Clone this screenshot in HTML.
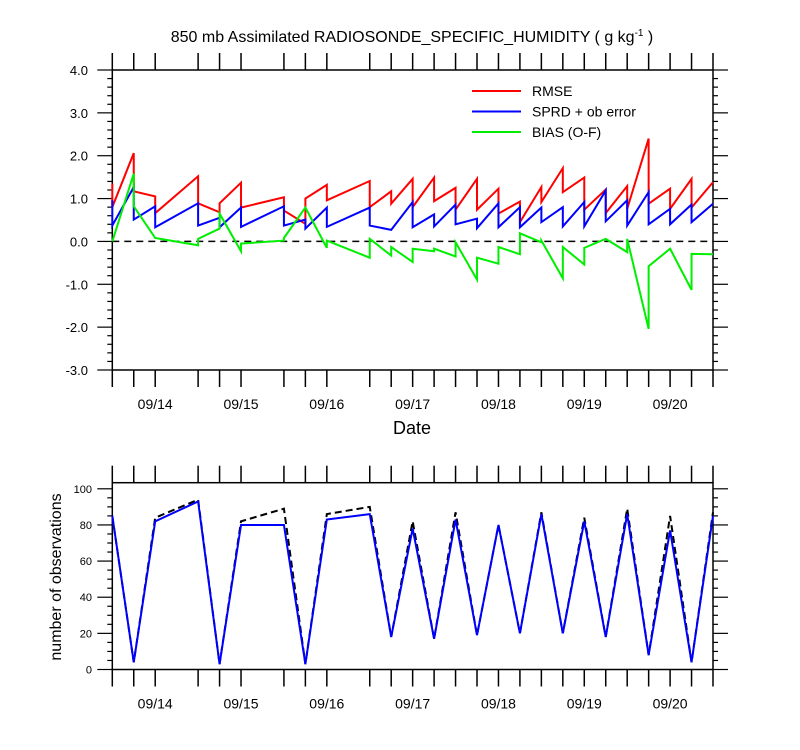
<!DOCTYPE html>
<html><head><meta charset="utf-8"><style>
html,body{margin:0;padding:0;background:#fff;}
svg{display:block;font-family:"Liberation Sans",sans-serif;}
</style></head><body>
<svg id="c" width="800" height="750"></svg>
<script>
const times=[0,1,2,4,5,6,8,9,10,12,13,14,15,16,17,18,19,20,21,22,23,24,25,26,27,28];
const dateLabels=["09/14","09/15","09/16","09/17","09/18","09/19","09/20"];
const dateTimes=[2,6,10,14,18,22,26];
const rmseEnd=[1.35,2.06,1.05,1.52,0.68,1.37,1.03,0.41,1.32,1.41,1.17,1.46,1.49,1.25,1.46,1.23,0.93,1.27,1.71,1.49,1.21,1.29,2.40,1.23,1.46,1.38];
const rmseStart=[0.80,1.17,0.66,0.89,0.89,0.79,0.72,1.00,0.96,0.80,0.88,0.80,0.94,0.74,0.74,0.65,0.45,0.92,1.15,0.74,0.66,0.76,0.88,0.76,0.79,1.38];
const sprdEnd=[0.96,1.27,0.82,0.89,0.55,0.79,0.82,0.51,0.79,0.79,0.27,0.92,0.63,0.86,0.53,0.89,0.80,0.79,0.80,0.92,1.19,0.96,1.15,0.76,0.86,0.88];
const sprdStart=[0.37,0.51,0.33,0.37,0.33,0.34,0.37,0.30,0.34,0.37,0.27,0.33,0.35,0.40,0.31,0.33,0.33,0.45,0.35,0.35,0.47,0.37,0.40,0.40,0.45,0.88];
const biasEnd=[0,1.58,0.08,-0.09,0.30,-0.23,0.02,0.79,-0.15,-0.38,-0.33,-0.48,-0.23,-0.35,-0.89,-0.52,-0.30,-0.02,-0.86,-0.54,0.06,-0.25,-2.04,-0.17,-1.13,-0.30];
const biasStart=[0,0.82,0.08,0.06,0.65,-0.05,0.08,0.79,0.02,0.06,-0.13,-0.17,-0.17,-0.02,-0.38,-0.13,0.19,0.02,-0.13,-0.15,0.06,0.06,-0.58,-0.17,-0.29,-0.30];
const obsUsed=[85,4,82,93,3,80,80,3,83,86,18,78,17,83,19,80,20,86,20,82,18,86,8,77,4,85];
const obsTotal=[85,4,84,94,3,82,89,3,86,90,18,82,17,87,19,80,20,87,20,84,18,89,8,85,4,87];
const yTicksTop=[4,3,2,1,0,-1,-2,-3];
const yTicksBot=[0,20,40,60,80,100];

const svg=document.getElementById('c');
const NS='http://www.w3.org/2000/svg';
function mk(tag,attrs,parent){const e=document.createElementNS(NS,tag);for(const k in attrs)e.setAttribute(k,attrs[k]);(parent||svg).appendChild(e);return e;}
const X0=112.3,X1=713;
const x=t=>X0+(X1-X0)*t/28;
const yT=v=>70+(4-v)*300/7;
const yB=v=>669.5-v*1.807;

// title
let t=mk('text',{x:412,y:42,'text-anchor':'middle','font-size':16});

t.innerHTML='850 mb Assimilated RADIOSONDE_SPECIFIC_HUMIDITY ( g kg<tspan dy="-6" font-size="10">-1</tspan><tspan dy="6"> )</tspan>';

function frame(top,bot,name){
  const r=mk('rect',{x:X0,y:top,width:X1-X0,height:bot-top,fill:'none',stroke:'#000','stroke-width':1.5});
  
  times.forEach(tt=>{
    mk('line',{x1:x(tt),x2:x(tt),y1:top,y2:top-17,stroke:'#000','stroke-width':1.5});
    mk('line',{x1:x(tt),x2:x(tt),y1:bot,y2:bot+17,stroke:'#000','stroke-width':1.5});
  });
  dateTimes.forEach((tt,i)=>{
    const l=mk('text',{x:x(tt),y:bot+39,'text-anchor':'middle','font-size':14});
    
    l.textContent=dateLabels[i];
  });
}
frame(70,370,'top-plot-frame');
frame(482.7,669.5,'bottom-plot-frame');

// top y axis
for(let v=-3;v<=4.001;v+=0.2){
  const yy=yT(v);const maj=Math.abs(v-Math.round(v))<1e-6;const L=maj?15:5;
  mk('line',{x1:X0,x2:X0-L,y1:yy,y2:yy,stroke:'#000','stroke-width':1.2});
  mk('line',{x1:X1,x2:X1+L,y1:yy,y2:yy,stroke:'#000','stroke-width':1.2});
}
yTicksTop.forEach(v=>{
  const l=mk('text',{x:88,y:yT(v)+5,'text-anchor':'end','font-size':13});
  
  l.textContent=v.toFixed(1);
});
let d=mk('text',{x:412,y:434,'text-anchor':'middle','font-size':18});
d.textContent='Date';
const zl=mk('line',{x1:X0,x2:X1,y1:yT(0),y2:yT(0),stroke:'#000','stroke-width':1.5,'stroke-dasharray':'7,5'});


function series(endA,startA,yf,color,name,dash){
  let pts=[];
  times.forEach((tt,i)=>{pts.push(x(tt)+','+yf(endA[i]));pts.push(x(tt)+','+yf(startA[i]));});
  const p=mk('polyline',{points:pts.join(' '),fill:'none',stroke:color,'stroke-width':2,'stroke-linejoin':'miter'});
  if(dash)p.setAttribute('stroke-dasharray',dash);
  
}
series(rmseEnd,rmseStart,yT,'#ff0000','rmse-line');
series(sprdEnd,sprdStart,yT,'#0000ff','sprd-line');
series(biasEnd,biasStart,yT,'#00ee00','bias-line');

// legend
[['RMSE','#ff0000'],['SPRD + ob error','#0000ff'],['BIAS (O-F)','#00ee00']].forEach((e,i)=>{
  const yy=91+i*20.5;
  const g=mk('g',{});
  
  mk('line',{x1:472,x2:521,y1:yy,y2:yy,stroke:e[1],'stroke-width':2},g);
  const tx=mk('text',{x:532,y:yy+5,'font-size':14},g);tx.textContent=e[0];
});

// bottom axis
for(let v=0;v<=100;v+=5){
  const yy=yB(v);const L=v%20===0?15:5;
  mk('line',{x1:X0,x2:X0-L,y1:yy,y2:yy,stroke:'#000','stroke-width':1.2});
  mk('line',{x1:X1,x2:X1+L,y1:yy,y2:yy,stroke:'#000','stroke-width':1.2});
}
yTicksBot.forEach(v=>{
  const l=mk('text',{x:92,y:yB(v)+4,'text-anchor':'end','font-size':11});
  
  l.textContent=v;
});
const yl=mk('text',{x:0,y:0,'text-anchor':'middle','font-size':16,transform:'translate(61,577) rotate(-90)'});
yl.textContent='number of observations';
series(obsTotal,obsTotal,yB,'#000000','obs-total-line','7,4');
series(obsUsed,obsUsed,yB,'#0000ff','obs-used-line');
</script>
</body></html>
